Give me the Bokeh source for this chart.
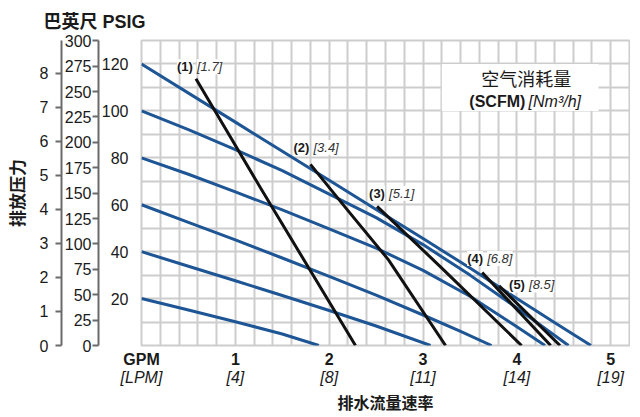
from bokeh.plotting import figure
from bokeh.models import (Range1d, LinearAxis, FixedTicker, SingleIntervalTicker,
                          BoxAnnotation, Label)
from bokeh.embed import file_html
from bokeh.resources import INLINE

# ---------------- data ----------------
gpm_ticks = [0, 1, 2, 3, 4, 5]
gpm_labels = ["GPM", "1", "2", "3", "4", "5"]
lpm_labels = ["[LPM]", "[4]", "[8]", "[11]", "[14]", "[19]"]
psig_ticks = [20, 40, 60, 80, 100, 120]
bar_ticks = [0, 1, 2, 3, 4, 5, 6, 7, 8]
feet_ticks = [0, 25, 50, 75, 100, 125, 150, 175, 200, 225, 250, 275, 300]

# pump curves at air inlet pressure (PSIG): flow in GPM, discharge in PSIG
flow_20 = [0.0, 0.5, 1.0, 1.5, 1.89]
head_20 = [20.0, 15.1, 10.1, 4.9, 0.0]
flow_40 = [0.0, 0.5, 1.0, 1.5, 2.0, 2.5, 3.08]
head_40 = [40.0, 33.8, 27.6, 21.3, 14.9, 8.3, 0.0]
flow_60 = [0.0, 0.5, 1.0, 1.5, 2.0, 2.5, 3.0, 3.4, 3.73]
head_60 = [60.0, 52.5, 45.0, 37.3, 29.5, 21.5, 13.0, 6.0, 0.0]
flow_80 = [0.0, 0.5, 1.0, 1.5, 2.0, 2.5, 3.0, 3.5, 4.0, 4.30]
head_80 = [80.0, 73.0, 65.5, 57.8, 49.7, 41.5, 32.0, 21.0, 8.0, 0.0]
flow_100 = [0.0, 0.5, 1.0, 1.5, 2.0, 2.5, 3.0, 3.5, 4.0, 4.55]
head_100 = [100.0, 92.0, 83.5, 74.5, 64.5, 54.5, 43.0, 30.0, 16.0, 0.0]
flow_120 = [0.0, 1.0, 2.0, 2.5, 3.0, 3.5, 4.0, 4.4, 4.79]
head_120 = [120.0, 95.2, 70.4, 58.0, 45.6, 33.0, 20.0, 9.8, 0.0]

# air consumption curves
air_scfm = ["(1)", "(2)", "(3)", "(4)", "(5)"]
air_nm3h = ["[1.7]", "[3.4]", "[5.1]", "[6.8]", "[8.5]"]
air_flow_1 = [0.58, 1.28, 2.28]
air_head_1 = [113.7, 66.4, 0.0]
air_flow_2 = [1.80, 2.2, 2.63, 3.24]
air_head_2 = [77.2, 57.5, 36.6, 0.0]
air_flow_3 = [2.51, 3.2, 4.05]
air_head_3 = [59.3, 33.0, 0.0]
air_flow_4 = [3.63, 4.36]
air_head_4 = [31.1, 0.0]
air_flow_5 = [3.81, 4.46]
air_head_5 = [25.4, 0.0]

# ---------------- styles ----------------
FONT = "Liberation Sans"
CJK = "Noto Sans CJK SC"
BLUE = "#1d5595"
BLACK = "#111111"
GRID = "#cdcdcd"
AXIS = "#6a6a6a"
TXT = "#1a1a1a"

p = figure(frame_width=488, frame_height=305, output_backend="svg",
           toolbar_location=None, x_range=Range1d(0, 5.2), y_range=Range1d(0, 130),
           min_border_left=135, min_border_right=1, min_border_top=38,
           min_border_bottom=56, background_fill_color="white",
           border_fill_color="white")

p.extra_y_ranges = {"ft": Range1d(0, 130 * 2.31), "bar": Range1d(0, 130 / 14.5038)}

# grid
p.xgrid.ticker = SingleIntervalTicker(interval=0.2, num_minor_ticks=0)
p.ygrid.ticker = SingleIntervalTicker(interval=10, num_minor_ticks=0)
p.grid.grid_line_color = GRID
p.grid.grid_line_width = 2
p.outline_line_color = GRID
p.outline_line_width = 2

# title (unit header for the stacked y axes)
p.title.text = "巴英尺 PSIG"
p.title.text_font = f"{FONT}, {CJK}"
p.title.text_font_size = "18px"
p.title.text_font_style = "bold"
p.title.text_color = TXT
p.title.align = "left"
p.title.offset = -98
p.title.standoff = 18


def style_axis(ax, size="16px"):
    ax.major_label_text_font = FONT
    ax.major_label_text_font_size = size
    ax.major_label_text_color = TXT
    ax.minor_tick_line_color = None
    ax.minor_tick_out = 0
    ax.minor_tick_in = 0


# inner PSIG axis (default)
ya = p.yaxis[0]
ya.ticker = FixedTicker(ticks=psig_ticks, minor_ticks=[])
style_axis(ya)
ya.axis_line_color = None
ya.major_tick_line_color = None
ya.major_tick_out = 0
ya.major_tick_in = 0
ya.major_label_standoff = 13


def spacer(gap):
    return LinearAxis(ticker=FixedTicker(ticks=[], minor_ticks=[]), axis_line_color=None,
                      major_tick_line_color=None, major_tick_out=gap, major_tick_in=0,
                      minor_tick_out=0, minor_tick_in=0, major_label_standoff=0)


p.add_layout(spacer(5), "left")

ft = LinearAxis(y_range_name="ft", ticker=FixedTicker(ticks=feet_ticks, minor_ticks=[]))
style_axis(ft)
ft.axis_line_color = AXIS
ft.axis_line_width = 2
ft.major_tick_line_color = AXIS
ft.major_tick_line_width = 2
ft.major_tick_out = 6
ft.major_tick_in = 0
ft.major_label_standoff = 1
p.add_layout(ft, "left")

p.add_layout(spacer(6), "left")

bar = LinearAxis(y_range_name="bar", ticker=FixedTicker(ticks=bar_ticks, minor_ticks=[]))
style_axis(bar)
bar.axis_line_color = AXIS
bar.axis_line_width = 2
bar.major_tick_line_color = AXIS
bar.major_tick_line_width = 2
bar.major_tick_out = 6
bar.major_tick_in = 0
bar.major_label_standoff = 7
bar.axis_label = "排放压力"
bar.axis_label_text_font = CJK
bar.axis_label_text_font_style = "bold"
bar.axis_label_text_font_size = "17px"
bar.axis_label_text_color = TXT
bar.axis_label_standoff = 8
p.add_layout(bar, "left")

# x axes
xa = p.xaxis[0]
xa.ticker = FixedTicker(ticks=gpm_ticks, minor_ticks=[])
xa.major_label_overrides = {t: s for t, s in zip(gpm_ticks, gpm_labels)}
style_axis(xa)
xa.major_label_text_font_style = "bold"
xa.axis_line_color = None
xa.major_tick_line_color = None
xa.major_tick_out = 0
xa.major_tick_in = 0
xa.major_label_standoff = 5

xb = LinearAxis(ticker=FixedTicker(ticks=gpm_ticks, minor_ticks=[]))
xb.major_label_overrides = {t: s for t, s in zip(gpm_ticks, lpm_labels)}
style_axis(xb)
xb.major_label_text_font_style = "italic"
xb.axis_line_color = None
xb.major_tick_line_color = None
xb.major_tick_out = 0
xb.major_tick_in = 0
xb.major_label_standoff = -2
xb.axis_label = "排水流量速率"
xb.axis_label_text_font = CJK
xb.axis_label_text_font_style = "bold"
xb.axis_label_text_font_size = "16px"
xb.axis_label_text_color = TXT
xb.axis_label_standoff = 1
p.add_layout(xb, "below")

# pump curves
for fx, hy in [(flow_20, head_20), (flow_40, head_40), (flow_60, head_60),
               (flow_80, head_80), (flow_100, head_100), (flow_120, head_120)]:
    p.line(fx, hy, line_color=BLUE, line_width=3, line_join="round")

air_curves = [(air_flow_1, air_head_1), (air_flow_2, air_head_2), (air_flow_3, air_head_3),
              (air_flow_4, air_head_4), (air_flow_5, air_head_5)]
for fx, hy in air_curves:
    p.line(fx, hy, line_color=BLACK, line_width=3, line_join="round")

# labels of air consumption curves, positioned relative to the curve start (px)
label_offsets = [(-19, 12), (-17, 17), (-8, 13), (-15, 14), (10, 1)]
for (fx, hy), n, m, (dx, dy) in zip(air_curves, air_scfm, air_nm3h, label_offsets):
    p.add_layout(Label(x=fx[0], y=hy[0], x_offset=dx, y_offset=dy, text=n,
                       text_font=FONT, text_font_size="13px", text_font_style="bold",
                       text_color=TXT, text_baseline="middle", text_align="left",
                       background_fill_color="white", background_fill_alpha=1.0))
    p.add_layout(Label(x=fx[0], y=hy[0], x_offset=dx + 20, y_offset=dy, text=m,
                       text_font=FONT, text_font_size="13px", text_font_style="italic",
                       text_color="#333333", text_baseline="middle", text_align="left",
                       background_fill_color="white", background_fill_alpha=1.0))

# legend header box
p.add_layout(BoxAnnotation(left=3.2, right=4.87, bottom=100, top=120,
                           fill_color="white", fill_alpha=1.0, line_color=None))
p.add_layout(Label(x=4.10, y=114.2, text="空气消耗量", text_font=CJK,
                   text_font_size="18px", text_color=TXT, text_align="center",
                   text_baseline="middle"))
p.add_layout(Label(x=4.09, y=104.2, text="(SCFM)", text_font=FONT,
                   text_font_size="16px", text_font_style="bold", text_color=TXT,
                   text_align="right", text_baseline="middle"))
p.add_layout(Label(x=4.125, y=104.2, text="[Nm³/h]", text_font=FONT,
                   text_font_size="16px", text_font_style="italic", text_color=TXT,
                   text_align="left", text_baseline="middle"))

open("out.html", "w").write(file_html(p, INLINE))
